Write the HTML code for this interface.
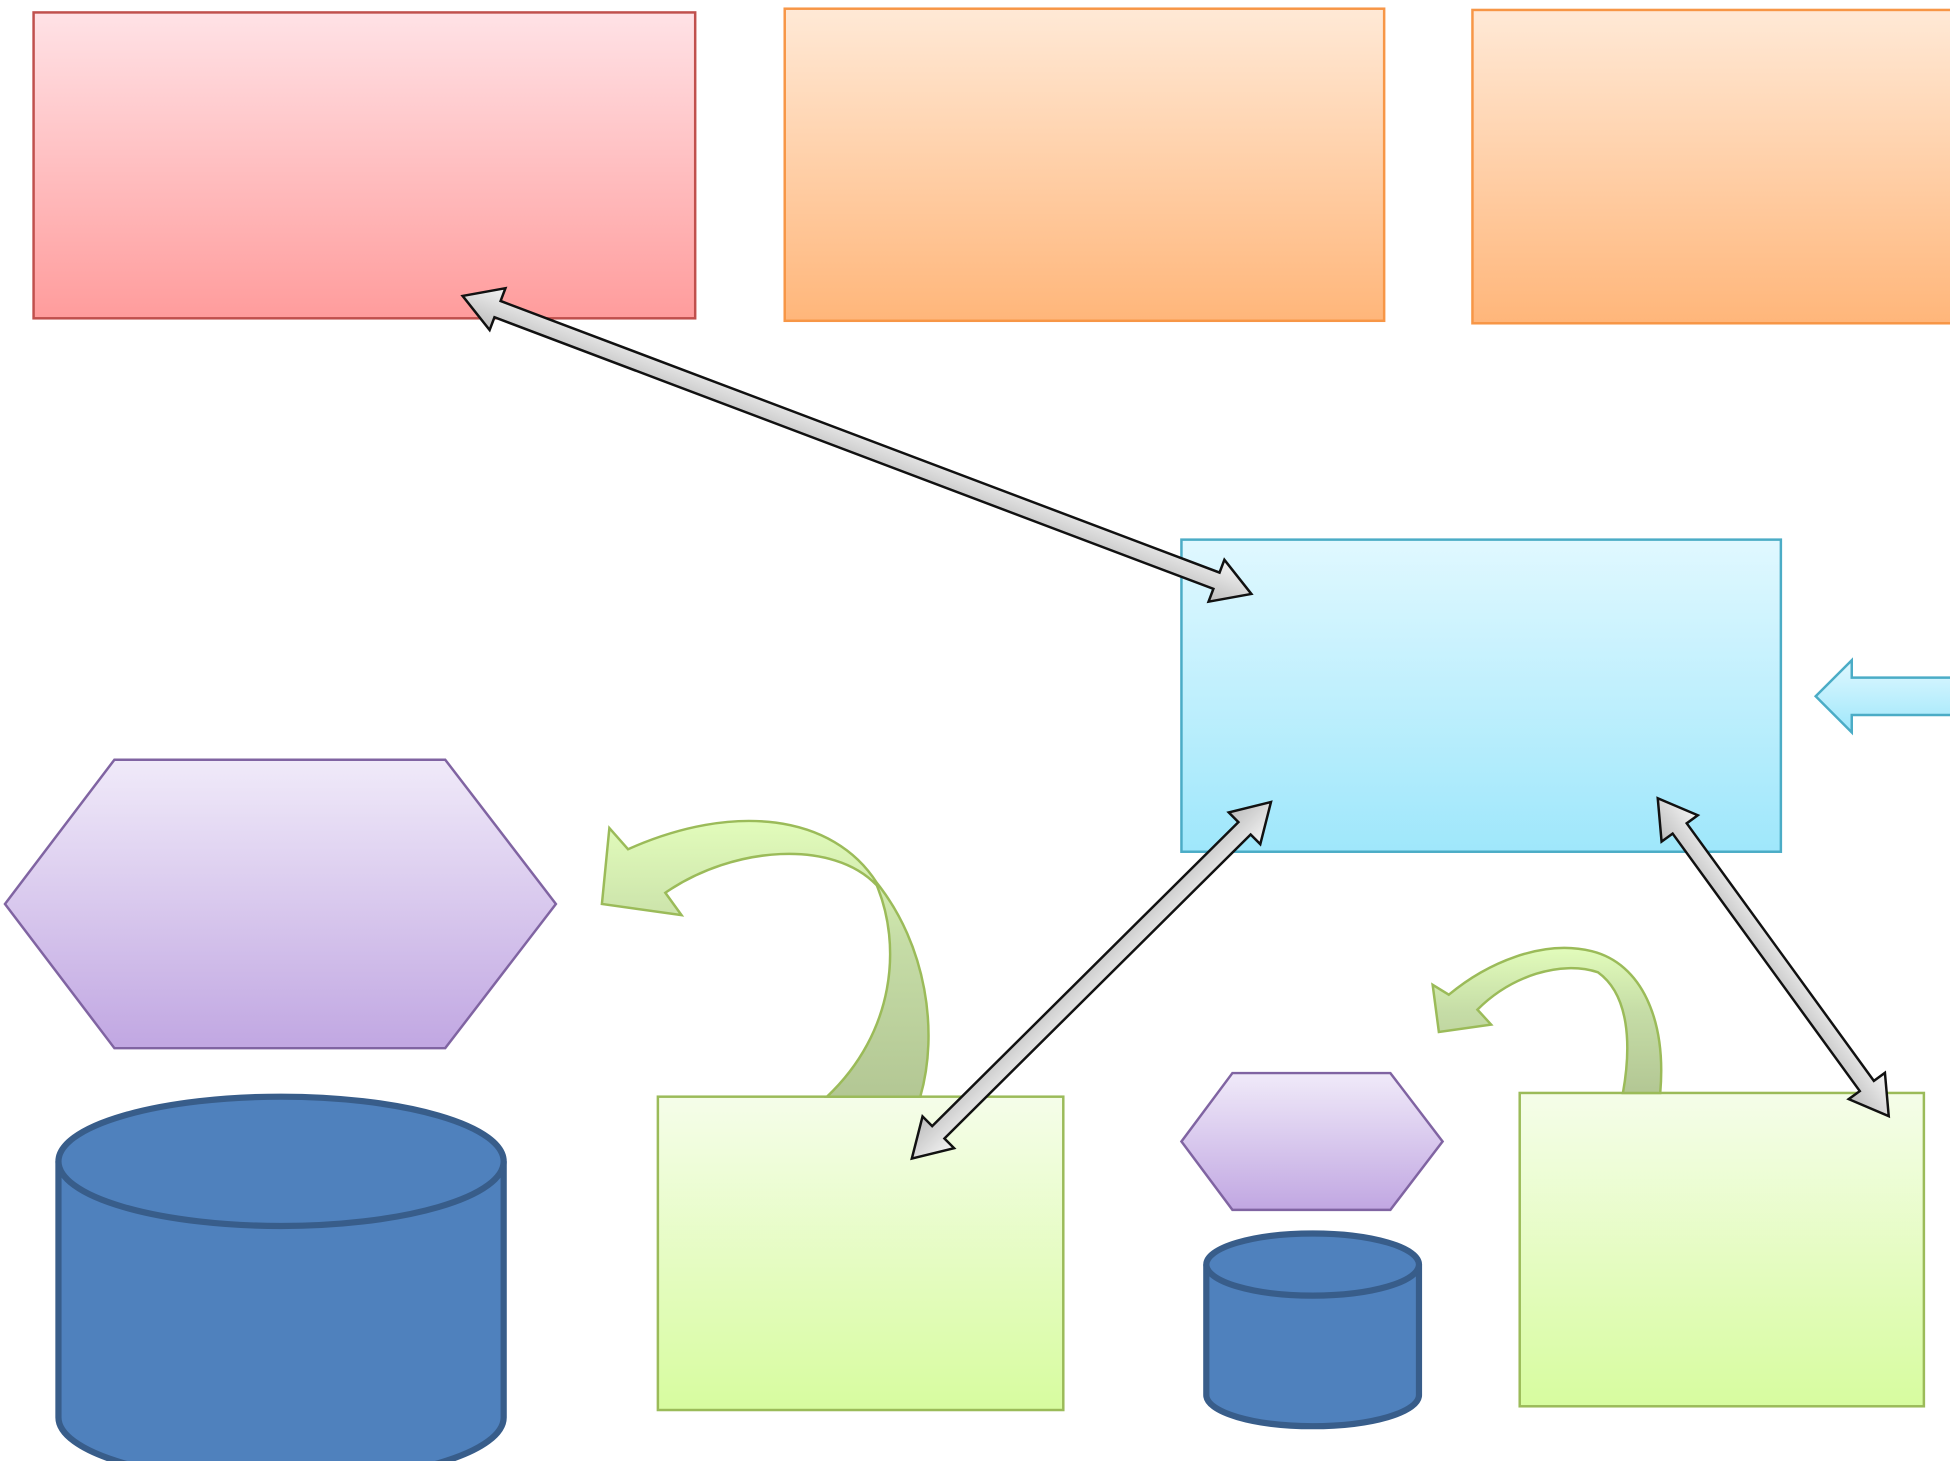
<!DOCTYPE html>
<html><head><meta charset="utf-8"><style>html,body{margin:0;padding:0;background:#fff;overflow:hidden}svg{display:block}</style></head>
<body>
<svg width="1950" height="1461" viewBox="0 0 1568 1175" preserveAspectRatio="none" xmlns="http://www.w3.org/2000/svg">
<defs>
<linearGradient id="red" x1="0" y1="0" x2="0" y2="1"><stop offset="0" stop-color="#ffe2e6"/><stop offset="1" stop-color="#ff9c9c"/></linearGradient>
<linearGradient id="org" x1="0" y1="0" x2="0" y2="1"><stop offset="0" stop-color="#ffe9d6"/><stop offset="1" stop-color="#ffb67a"/></linearGradient>
<linearGradient id="blu" x1="0" y1="0" x2="0" y2="1"><stop offset="0" stop-color="#e0f8ff"/><stop offset="1" stop-color="#9fe7fb"/></linearGradient>
<linearGradient id="pur" x1="0" y1="0" x2="0" y2="1"><stop offset="0" stop-color="#f0eaf9"/><stop offset="1" stop-color="#c1a7e2"/></linearGradient>
<linearGradient id="grn" x1="0" y1="0" x2="0" y2="1"><stop offset="0" stop-color="#f5fde9"/><stop offset="1" stop-color="#d7fc9f"/></linearGradient>
<linearGradient id="cg" x1="0" y1="1" x2="0" y2="0"><stop offset="0" stop-color="#b3c794"/><stop offset="0.55" stop-color="#c5dca6"/><stop offset="1" stop-color="#e2fcbb"/></linearGradient>
<linearGradient id="gry" x1="0" y1="0" x2="0" y2="1"><stop offset="0" stop-color="#f4f4f4"/><stop offset="1" stop-color="#bdbdbd"/></linearGradient>
</defs>
<rect x="27" y="10" width="532" height="246" fill="url(#red)" stroke="#c0504d" stroke-width="2"/>
<rect x="631" y="7" width="482" height="251" fill="url(#org)" stroke="#f79646" stroke-width="2"/>
<rect x="1184" y="8" width="400" height="252" fill="url(#org)" stroke="#f79646" stroke-width="2"/>
<rect x="950" y="434" width="482" height="251" fill="url(#blu)" stroke="#4bacc6" stroke-width="2"/>
<polygon points="1460,560 1489,531 1489,545 1575,545 1575,575 1489,575 1489,589" fill="url(#blu)" stroke="#4bacc6" stroke-width="2"/>
<polygon points="4,727 92,611 358,611 447,727 358,843 92,843" fill="url(#pur)" stroke="#8064a2" stroke-width="2"/>
<polygon points="950,918 991,863 1118,863 1160,918 1118,973 991,973" fill="url(#pur)" stroke="#8064a2" stroke-width="2"/>
<path d="M47,934 L47,1140 A179,52 0 0 0 405,1140 L405,934" fill="#4f81bd" stroke="#385d8a" stroke-width="5"/>
<ellipse cx="226" cy="934" rx="179" ry="52" fill="#4f81bd" stroke="#385d8a" stroke-width="5"/>
<path d="M970,1017 L970,1122 A85.5,25 0 0 0 1141,1122 L1141,1017" fill="#4f81bd" stroke="#385d8a" stroke-width="5"/>
<ellipse cx="1055.5" cy="1017" rx="85.5" ry="25" fill="#4f81bd" stroke="#385d8a" stroke-width="5"/>
<rect x="529" y="882" width="326" height="252" fill="url(#grn)" stroke="#9bbb59" stroke-width="2"/>
<rect x="1222" y="879" width="325" height="252" fill="url(#grn)" stroke="#9bbb59" stroke-width="2"/>
<path d="M740,882 C755,830 745,760 705,710 C670,655 590,645 505,683 L490,666 L484,727 L548,736 L535,718 C590,680 670,675 705,712 C725,760 720,830 665,882 Z" fill="url(#cg)" stroke="#9bbb59" stroke-width="2"/>
<path d="M1335,879 C1340,820 1320,775 1280,765 C1240,755 1195,775 1165,800 L1152,792 L1157,830 L1199,824 L1188,812 C1215,785 1255,772 1285,782 C1310,800 1312,840 1305,879 Z" fill="url(#cg)" stroke="#9bbb59" stroke-width="2"/>
<g fill="url(#gry)" stroke="#111" stroke-width="2" stroke-linejoin="miter">
<polygon transform="translate(372,238) rotate(20.7)" points="0,0 30,-18 30,-7 648,-7 648,-18 678,0 648,18 648,7 30,7 30,18"/>
<polygon transform="translate(1022,645) rotate(135.2)" points="0,0 30,-18 30,-7 377,-7 377,-18 407,0 377,18 377,7 30,7 30,18"/>
<polygon transform="translate(1333,642) rotate(54)" points="0,0 30,-18 30,-7 286,-7 286,-18 316,0 286,18 286,7 30,7 30,18"/>
</g>
</svg>
</body></html>
